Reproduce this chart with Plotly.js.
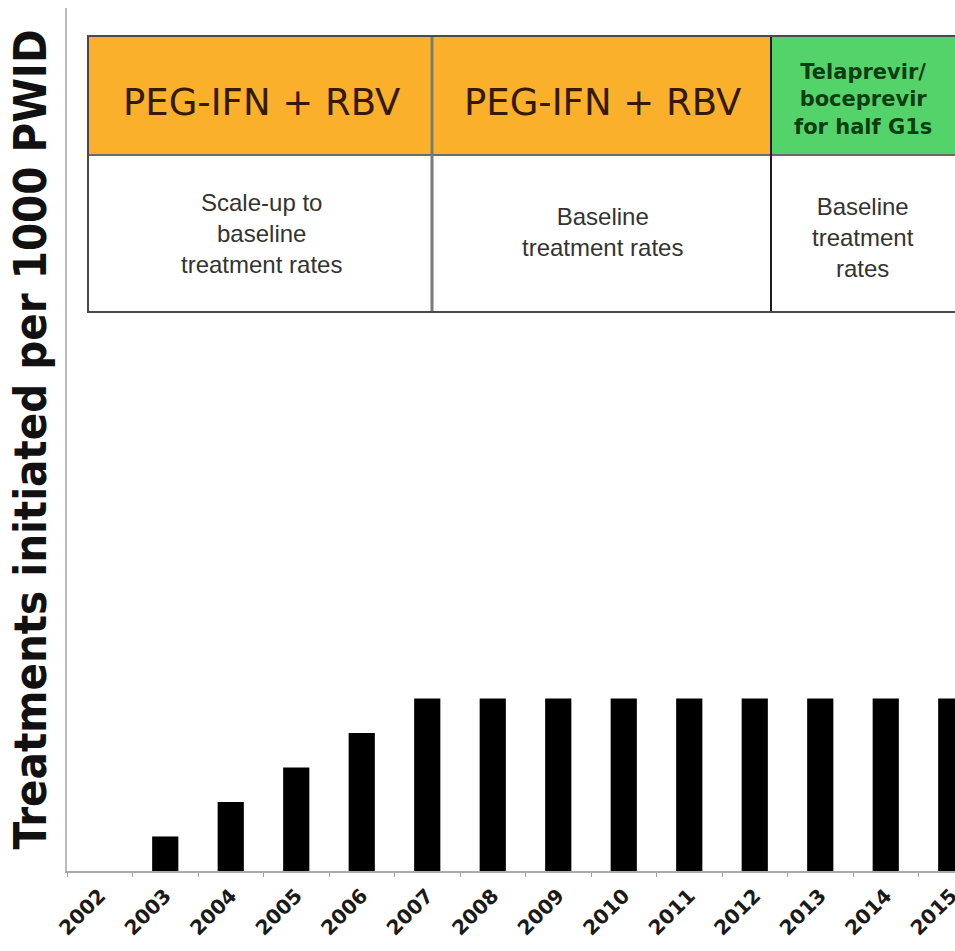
<!DOCTYPE html>
<html>
<head>
<meta charset="utf-8">
<script src="https://cdn.plot.ly/plotly-3.0.1.min.js"></script>
<style>
html, body { margin: 0; padding: 0; overflow: hidden; background: #fff; }
#chart { width: 990px; height: 951px; }
</style>
</head>
<body>
<div id="chart"></div>
<script>
// ---- data ----
const years = ['2002','2003','2004','2005','2006','2007','2008','2009','2010','2011','2012','2013','2014','2015'];
const treatmentsInitiated = [0, 1, 2, 3, 4, 5, 5, 5, 5, 5, 5, 5, 5, 5];
const yAxisTitle = 'Treatments initiated per 1000 PWID';
const regimenLabels = ['PEG-IFN + RBV', 'PEG-IFN + RBV', 'Telaprevir/<br>boceprevir<br>for half G1s'];
const scenarioLabels = ['Scale-up to<br>baseline<br>treatment rates', 'Baseline<br>treatment rates', 'Baseline<br>treatment<br>rates'];

// ---- layout geometry ----
const W = 990, H = 951;
const M = {l: 67, r: 6, t: 8, b: 80};
const PW = W - M.l - M.r, PH = H - M.t - M.b;
const px = v => (v - M.l) / PW;          // pixel -> paper x
const py = v => (H - M.b - v) / PH;      // pixel -> paper y

// table geometry (pixels)
const T = {left: 88, top: 36, mid: 155, bottom: 312, right: 990, c1: 432, c2: 771};
const colCenters = [261, 602, 863];
const headerY = [102, 102, 100];
const bodyY = [233, 232, 237];

const shapes = [
  {type:'rect', xref:'paper', yref:'paper', x0:px(T.left), x1:px(T.c2), y0:py(T.mid), y1:py(T.top), fillcolor:'#FAB02A', line:{width:0}, layer:'above'},
  {type:'rect', xref:'paper', yref:'paper', x0:px(T.c2), x1:px(T.right), y0:py(T.mid), y1:py(T.top), fillcolor:'#55D36B', line:{width:0}, layer:'above'},
  {type:'rect', xref:'paper', yref:'paper', x0:px(T.left), x1:px(T.right), y0:py(T.bottom), y1:py(T.mid), fillcolor:'#ffffff', line:{width:0}, layer:'above'},
  {type:'line', xref:'paper', yref:'paper', x0:px(T.left), x1:px(T.right), y0:py(T.mid), y1:py(T.mid), line:{color:'#6b6b6b', width:2}, layer:'above'},
  {type:'line', xref:'paper', yref:'paper', x0:px(T.c1), x1:px(T.c1), y0:py(T.bottom), y1:py(T.top), line:{color:'#7a7a7a', width:3}, layer:'above'},
  {type:'line', xref:'paper', yref:'paper', x0:px(T.c2), x1:px(T.c2), y0:py(T.bottom), y1:py(T.top), line:{color:'#1e1e1e', width:2}, layer:'above'},
  {type:'rect', xref:'paper', yref:'paper', x0:px(T.left), x1:px(T.right), y0:py(T.bottom), y1:py(T.top), fillcolor:'rgba(0,0,0,0)', line:{color:'#4a4a4a', width:2}, layer:'above'}
];

const annotations = [];
regimenLabels.forEach((t, i) => {
  const green = i === 2;
  annotations.push({
    xref:'paper', yref:'paper', x:px(colCenters[i]), y:py(headerY[i]),
    text:t, showarrow:false, xanchor:'center', yanchor:'middle', align:'center',
    font: green ? {family:'DejaVu Sans, Arial, sans-serif', size:21, weight:'bold', color:'#0e3d12'}
                : {family:'DejaVu Sans, Verdana, sans-serif', size:37, color:'#341a04'}
  });
});
scenarioLabels.forEach((t, i) => {
  annotations.push({
    xref:'paper', yref:'paper', x:px(colCenters[i]), y:py(bodyY[i]),
    text:t, showarrow:false, xanchor:'center', yanchor:'middle', align:'center',
    font:{family:'Liberation Sans, Arial, sans-serif', size:24, color:'#333333'}
  });
});

const trace = {
  type:'bar', x: years, y: treatmentsInitiated,
  width: 0.4, marker:{color:'#000000', line:{width:0}},
  hoverinfo:'x+y'
};

const layout = {
  width: W, height: H,
  margin: M,
  paper_bgcolor:'#ffffff', plot_bgcolor:'#ffffff',
  showlegend:false,
  xaxis: {
    type:'category', range:[-0.5, 13.5],
    tickson:'boundaries', ticks:'outside', ticklen:4, tickwidth:1, tickcolor:'#a0a0a0',
    showline:true, linecolor:'#ababab', linewidth:2,
    showgrid:false, zeroline:false,
    tickangle:-45, ticklabelstandoff: 3,
    tickfont:{family:'DejaVu Sans, Arial, sans-serif', size:20, weight:'bold', color:'#1a1a1a'}
  },
  yaxis: {
    range:[0, 25], showline:true, linecolor:'#bdbdbd', linewidth:2,
    showticklabels:false, ticks:'', showgrid:false, zeroline:false,
    title:{text: yAxisTitle, standoff: 4,
      font:{family:'DejaVu Sans Condensed, Liberation Sans Narrow, sans-serif', size:45, weight:'bold', color:'#111'}}
  },
  shapes, annotations
};

Plotly.newPlot('chart', [trace], layout, {displayModeBar:false, staticPlot:true});
</script>
</body>
</html>
